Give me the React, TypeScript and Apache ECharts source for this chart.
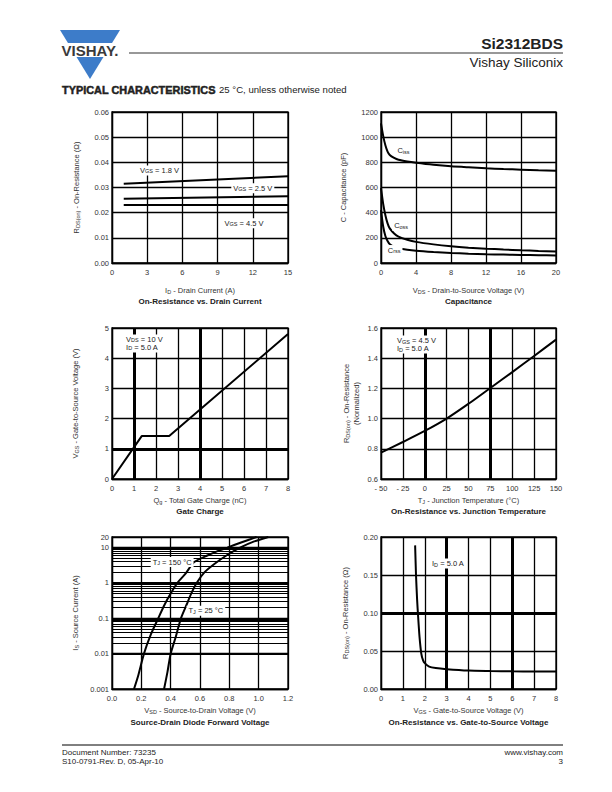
import React, { useEffect, useRef } from "react";
import * as echarts from "echarts";

const FONT = '"Liberation Sans", Arial, Helvetica, sans-serif';
const INK = "#222";

// ---------- Chart 1: On-Resistance vs. Drain Current ----------
const rdsIdCurrent = [1, 15];
const rdsIdVgs18 = [0.0315, 0.0345];
const rdsIdVgs25 = [0.0255, 0.0265];
const rdsIdVgs45 = [0.023, 0.023];

// ---------- Chart 2: Capacitance ----------
const capVds = [0, 0.25, 0.5, 0.75, 1, 1.5, 2, 3, 4, 6, 8, 10, 12, 14, 16, 18, 20];
const capCiss = [1110, 1010, 935, 885, 858, 835, 820, 806, 796, 780, 768, 760, 753, 747, 742, 737, 733];
const capCoss = [595, 470, 380, 315, 275, 235, 210, 185, 168, 148, 133, 122, 114, 107, 101, 96, 92];
const capCrss = [420, 290, 215, 175, 150, 128, 118, 106, 98, 88, 80, 74, 70, 67, 64, 62, 60];

// ---------- Chart 3: Gate Charge ----------
const gateQg = [0, 1.35, 2.6, 8];
const gateVgs = [0, 1.42, 1.42, 4.8];

// ---------- Chart 4: On-Resistance vs. Junction Temperature ----------
const tjTemp = [-50, -25, 0, 25, 50, 75, 100, 125, 150];
const tjRdsNorm = [0.775, 0.845, 0.918, 1.0, 1.098, 1.203, 1.308, 1.415, 1.523];

// ---------- Chart 5: Source-Drain Diode Forward Voltage ----------
const diode150V = [0.15, 0.18, 0.218, 0.265, 0.315, 0.36, 0.4, 0.445, 0.5, 0.56, 0.65, 0.72, 0.786, 0.88, 0.986];
const diode150I = [0.001, 0.0025, 0.01, 0.035, 0.1, 0.25, 0.5, 1, 1.8, 3.9, 6, 8, 10, 14, 20];
const diode25V = [0.355, 0.378, 0.4, 0.435, 0.47, 0.51, 0.54, 0.577, 0.63, 0.7, 0.78, 0.873, 0.97, 1.066];
const diode25I = [0.001, 0.003, 0.01, 0.03, 0.1, 0.25, 0.5, 1, 2, 3.5, 6, 10, 15, 20];
const diodeMinorLines = [0.002, 0.003, 0.004, 0.005, 0.006, 0.007, 0.008, 0.009,
  0.02, 0.03, 0.04, 0.05, 0.06, 0.07, 0.08, 0.09,
  0.2, 0.3, 0.4, 0.5, 0.6, 0.7, 0.8, 0.9,
  2, 3, 4, 5, 6, 7, 8, 9];
const diodeDecadeLines = [0.01, 0.1, 1, 10];

// ---------- Chart 6: On-Resistance vs. Gate-to-Source Voltage ----------
const vgsVolt = [1.56, 1.6, 1.65, 1.7, 1.76, 1.84, 1.92, 2.0, 2.2, 2.5, 3, 4, 5, 6, 7, 8];
const vgsRds = [0.189, 0.15, 0.118, 0.094, 0.069, 0.047, 0.038, 0.034, 0.0295, 0.0275, 0.026, 0.0242, 0.0237, 0.0233, 0.023, 0.0229];

// ---------- In-plot annotations (grid, x, y in data units) ----------
const NOTES = [
  { grid: 0, x: 4.05, y: 0.0368, text: "{n|V}{s|GS}{n| = 1.8 V}", left: false },
  { grid: 0, x: 12.0, y: 0.0297, text: "{n|V}{s|GS}{n| = 2.5 V}", left: false },
  { grid: 0, x: 11.25, y: 0.0158, text: "{n|V}{s|GS}{n| = 4.5 V}", left: false },
  { grid: 1, x: 2.57, y: 892, text: "{n|C}{s|iss}", left: false },
  { grid: 1, x: 2.3, y: 296, text: "{n|C}{s|oss}", left: false },
  { grid: 1, x: 1.5, y: 103, text: "{n|C}{s|rss}", left: false },
  { grid: 2, x: 0.55, y: 4.49, text: "{n|V}{s|DS}{n| = 10 V}\n{n|I}{s|D}{n| = 5.0 A}", left: true },
  { grid: 3, x: -34, y: 1.49, text: "{n|V}{s|GS}{n| = 4.5 V}\n{n|I}{s|D}{n| = 5.0 A}", left: true },
  { grid: 4, x: 0.41, y: 3.9, text: "{n|T}{s|J}{n| = 150 °C}", left: false },
  { grid: 4, x: 0.64, y: 0.163, text: "{n|T}{s|J}{n| = 25 °C}", left: false },
  { grid: 5, x: 3.06, y: 0.165, text: "{n|I}{s|D}{n| = 5.0 A}", left: false },
];

const zip = (xs: number[], ys: number[]) => xs.map((x, i) => [x, ys[i]]);

const RICH_NAME = {
  n: { fontSize: 7.5, lineHeight: 10, fontFamily: FONT, color: "#333" },
  s: { fontSize: 5.5, lineHeight: 4, verticalAlign: "bottom", fontFamily: FONT, color: "#333" },
};
const RICH_NOTE = {
  n: { fontSize: 7.5, lineHeight: 8, fontFamily: FONT, fill: INK, color: INK },
  s: { fontSize: 5.5, lineHeight: 2, verticalAlign: "bottom", fontFamily: FONT, fill: INK, color: INK },
};

const GRIDS = [
  { left: 112, top: 112, width: 176, height: 151 },
  { left: 381, top: 112, width: 175, height: 151 },
  { left: 112, top: 328, width: 176, height: 151 },
  { left: 381, top: 328, width: 175, height: 151 },
  { left: 112, top: 537, width: 176, height: 152 },
  { left: 381, top: 537, width: 175, height: 152 },
];

const gridLine = { color: "#000", width: 1.3 };

function axis(dim: "x" | "y", grid: number, o: any) {
  return {
    type: o.type || "value",
    gridIndex: grid,
    min: o.min,
    max: o.max,
    interval: o.interval,
    logBase: o.logBase,
    name: o.name,
    nameLocation: "middle",
    nameGap: o.nameGap,
    nameTextStyle: { fontSize: 7.5, fontFamily: FONT, color: "#333", rich: RICH_NAME },
    axisLine: { show: true, onZero: false, lineStyle: gridLine },
    axisTick: { show: false },
    splitLine: { show: true, lineStyle: gridLine },
    axisLabel: {
      fontSize: 7.5,
      fontFamily: FONT,
      color: "#333",
      margin: dim === "x" ? 5 : 3,
      hideOverlap: false,
      formatter: o.fmt,
    },
  };
}

function curve(grid: number, data: number[][], smooth: boolean | number = false) {
  return {
    type: "line",
    xAxisIndex: grid,
    yAxisIndex: grid,
    data,
    smooth,
    symbol: "none",
    silent: true,
    z: 3,
    lineStyle: { color: "#000", width: 2 },
  };
}

function guides(grid: number, xs: number[], ys: number[], width: number) {
  return {
    type: "line",
    xAxisIndex: grid,
    yAxisIndex: grid,
    data: [],
    silent: true,
    z: 2,
    markLine: {
      silent: true,
      symbol: ["none", "none"],
      label: { show: false },
      emphasis: { disabled: true },
      lineStyle: { color: "#000", width, type: "solid" },
      data: [...xs.map((v) => ({ xAxis: v })), ...ys.map((v) => ({ yAxis: v }))],
    },
  };
}

const fx = (d: number) => (v: number) => v.toFixed(d);

function txt(x: number, y: number, text: string, size: number, weight: any = "normal", align = "center", extra: any = {}) {
  return {
    type: "text",
    x,
    y,
    z: 100,
    silent: true,
    style: {
      text,
      fontSize: size,
      fontWeight: weight,
      fontFamily: FONT,
      fill: INK,
      align,
      verticalAlign: "middle",
      ...extra,
    },
  };
}

const HEADER = [
  { type: "polygon", silent: true, shape: { points: [[60, 30], [120, 30], [90, 79]] }, style: { fill: "#3D7CC9" } },
  { type: "rect", silent: true, shape: { x: 54, y: 43, width: 74, height: 14 }, style: { fill: "#fff" } },
  txt(90, 50.5, "VISHAY.", 15, "bold", "center", { fill: "#3a3a3a" }),
  { type: "line", silent: true, shape: { x1: 129, y1: 53, x2: 563, y2: 53 }, style: { stroke: "#333", lineWidth: 1.2 } },
  txt(563, 43, "Si2312BDS", 15.5, "bold", "right"),
  txt(563, 62, "Vishay Siliconix", 13.5, "normal", "right"),
  txt(62, 89.5, "TYPICAL CHARACTERISTICS", 10.9, "bold", "left", { stroke: INK, lineWidth: 0.5 }),
  txt(219, 89.5, "25 °C, unless otherwise noted", 9.6, "normal", "left"),
  txt(200, 301.5, "On-Resistance vs. Drain Current", 8, "bold"),
  txt(468.5, 301.5, "Capacitance", 8, "bold"),
  txt(200, 511.7, "Gate Charge", 8, "bold"),
  txt(468.5, 511.7, "On-Resistance vs. Junction Temperature", 8, "bold"),
  txt(200, 722.3, "Source-Drain Diode Forward Voltage", 8, "bold"),
  txt(468.5, 722.3, "On-Resistance vs. Gate-to-Source Voltage", 8, "bold"),
  { type: "line", silent: true, shape: { x1: 62, y1: 745, x2: 563, y2: 745 }, style: { stroke: "#000", lineWidth: 1 } },
  txt(62, 752, "Document Number: 73235", 8, "normal", "left"),
  txt(62, 761.5, "S10-0791-Rev. D, 05-Apr-10", 8, "normal", "left"),
  txt(563, 752, "www.vishay.com", 8, "normal", "right"),
  txt(563, 761.5, "3", 8, "normal", "right"),
];

export default function App() {
  const ref = useRef<HTMLDivElement>(null);
  useEffect(() => {
    if (!ref.current) return;
    const chart = echarts.init(ref.current, undefined, { renderer: "svg" });
    const option: any = {
      animation: false,
      backgroundColor: "#fff",
      grid: GRIDS.map((g) => ({
        ...g,
        show: true,
        backgroundColor: "#fff",
        borderColor: "#000",
        borderWidth: 1.3,
        containLabel: false,
        outerBoundsMode: "none",
      })),
      xAxis: [
        axis("x", 0, { min: 0, max: 15, interval: 3, nameGap: 22, name: "{n|I}{s|D}{n| - Drain Current (A)}", fmt: fx(0) }),
        axis("x", 1, { min: 0, max: 20, interval: 4, nameGap: 22, name: "{n|V}{s|DS}{n| - Drain-to-Source Voltage (V)}", fmt: fx(0) }),
        axis("x", 2, { min: 0, max: 8, interval: 1, nameGap: 16, name: "{n|Q}{s|g}{n| - Total Gate Charge (nC)}", fmt: fx(0) }),
        axis("x", 3, {
          min: -50, max: 150, interval: 25, nameGap: 16,
          name: "{n|T}{s|J}{n| - Junction Temperature (°C)}",
          fmt: (v: number) => (v < 0 ? "- " + Math.abs(v) : String(v)),
        }),
        axis("x", 4, { min: 0, max: 1.2, interval: 0.2, nameGap: 16, name: "{n|V}{s|SD}{n| - Source-to-Drain Voltage (V)}", fmt: fx(1) }),
        axis("x", 5, { min: 0, max: 8, interval: 1, nameGap: 16, name: "{n|V}{s|GS}{n| - Gate-to-Source Voltage (V)}", fmt: fx(0) }),
      ],
      yAxis: [
        axis("y", 0, { min: 0, max: 0.06, interval: 0.01, nameGap: 31, name: "{n|R}{s|DS(on)}{n| - On-Resistance (Ω)}", fmt: fx(2) }),
        axis("y", 1, { min: 0, max: 1200, interval: 200, nameGap: 33, name: "{n|C - Capacitance (pF)}", fmt: fx(0) }),
        axis("y", 2, { min: 0, max: 5, interval: 1, nameGap: 32, name: "{n|V}{s|GS}{n| - Gate-to-Source Voltage (V)}", fmt: fx(0) }),
        axis("y", 3, { min: 0.6, max: 1.6, interval: 0.2, nameGap: 20, name: "{n|R}{s|DS(on)}{n| - On-Resistance}\n{n|(Normalized)}", fmt: fx(1) }),
        axis("y", 4, {
          type: "log", logBase: 10, min: 0.001, max: 20, nameGap: 32,
          name: "{n|I}{s|S}{n| - Source Current (A)}",
          fmt: (v: number) => String(Number(Number(v).toPrecision(3))),
        }),
        axis("y", 5, { min: 0, max: 0.2, interval: 0.05, nameGap: 31, name: "{n|R}{s|DS(on)}{n| - On-Resistance (Ω)}", fmt: fx(2) }),
      ],
      series: [
        curve(0, zip(rdsIdCurrent, rdsIdVgs18)),
        curve(0, zip(rdsIdCurrent, rdsIdVgs25)),
        curve(0, zip(rdsIdCurrent, rdsIdVgs45)),
        curve(1, zip(capVds, capCiss), 0.25),
        curve(1, zip(capVds, capCoss), 0.25),
        curve(1, zip(capVds, capCrss), 0.25),
        guides(2, [1, 4], [1], 3),
        curve(2, zip(gateQg, gateVgs)),
        guides(3, [0, 75], [], 3),
        curve(3, zip(tjTemp, tjRdsNorm), 0.3),
        guides(4, [], diodeMinorLines, 1),
        guides(4, [], diodeDecadeLines, 2.2),
        curve(4, zip(diode150V, diode150I), 0.25),
        curve(4, zip(diode25V, diode25I), 0.25),
        guides(5, [3, 6], [0.1], 3),
        curve(5, zip(vgsVolt, vgsRds), 0.2),
      ],
      graphic: HEADER,
    };
    chart.setOption(option);

    const noteEls = NOTES.map((nt) => {
      const p = chart.convertToPixel({ gridIndex: nt.grid } as any, [nt.x, nt.y]) as number[];
      return {
        type: "text",
        x: p[0],
        y: p[1],
        z: 100,
        silent: true,
        style: {
          text: nt.text,
          rich: RICH_NOTE,
          fontSize: 7.5,
          fontFamily: FONT,
          fill: INK,
          align: nt.left ? "left" : "center",
          verticalAlign: "middle",
          backgroundColor: "#fff",
          padding: [1, 2, 1, 2],
        },
      };
    });
    chart.setOption({ graphic: [...HEADER, ...noteEls] });
    return () => chart.dispose();
  }, []);
  return (
    <div
      ref={ref}
      style={{ position: "absolute", left: 0, top: 0, width: 612, height: 792, background: "#fff" }}
    />
  );
}
